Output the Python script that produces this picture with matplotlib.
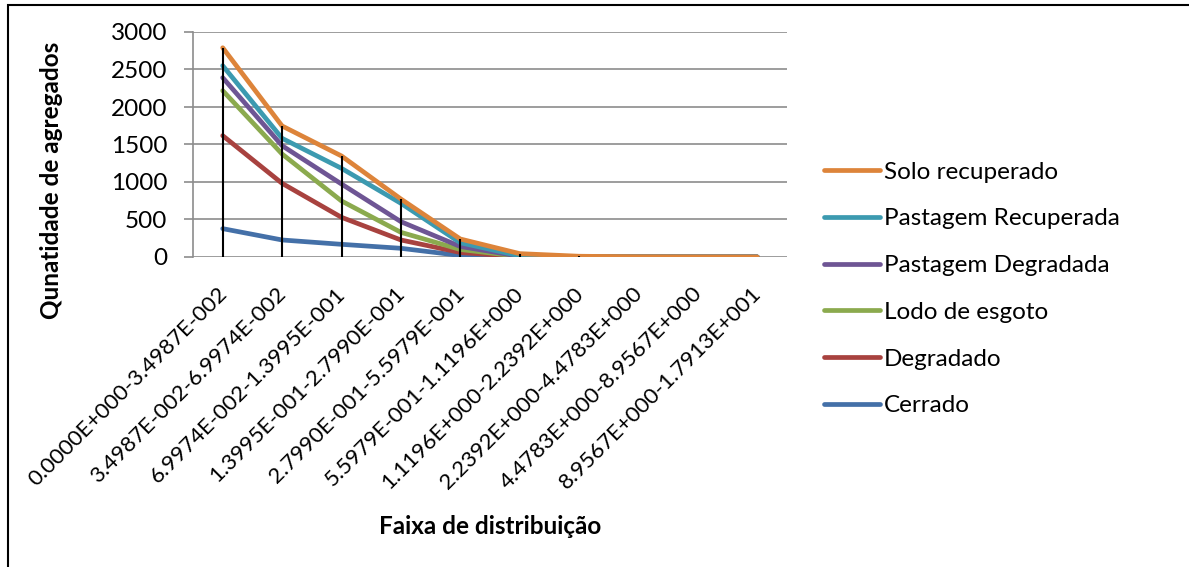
import matplotlib
matplotlib.use("Agg")
import matplotlib.pyplot as plt
from matplotlib.patches import Rectangle
from matplotlib.transforms import ScaledTranslation

plt.rcParams['font.family'] = ['Lato', 'DejaVu Sans']

# faixas de distribuicao (categorias)
faixas = ['0.0000E+000-3.4987E-002', '3.4987E-002-6.9974E-002',
          '6.9974E-002-1.3995E-001', '1.3995E-001-2.7990E-001',
          '2.7990E-001-5.5979E-001', '5.5979E-001-1.1196E+000',
          '1.1196E+000-2.2392E+000', '2.2392E+000-4.4783E+000',
          '4.4783E+000-8.9567E+000', '8.9567E+000-1.7913E+001']

# valores
cerrado = [378, 227, 169, 116, 20, 2, 1, 0, 0, 0]
degradado = [1618, 982, 529, 227, 60, 5, 2, 0, 0, 0]
lodo = [2218, 1373, 747, 329, 100, 8, 2, 1, 0, 0]
past_degradada = [2391, 1484, 973, 471, 140, 10, 3, 1, 0, 0]
past_recuperada = [2551, 1582, 1182, 716, 190, 15, 4, 1, 0, 0]
solo_recuperado = [2790, 1747, 1347, 773, 240, 45, 10, 3, 1, 0]

series = [('Cerrado', cerrado, '#4470A8'),
          ('Degradado', degradado, '#A8423F'),
          ('Lodo de esgoto', lodo, '#8BAA4E'),
          ('Pastagem Degradada', past_degradada, '#6E5594'),
          ('Pastagem Recuperada', past_recuperada, '#3C9AB0'),
          ('Solo recuperado', solo_recuperado, '#DD843A')]

FS = 17.5
W, H = 1189, 567
fig = plt.figure(figsize=(W / 100, H / 100), dpi=100)
ax = fig.add_axes([193 / W, 1 - 257 / H, 594 / W, 225 / H])

x = list(range(len(faixas)))
handles = []
for nome, vals, cor in series:
    h, = ax.plot(x, vals, color=cor, lw=3.4, solid_capstyle='round',
                 solid_joinstyle='round', label=nome, zorder=3)
    handles.append(h)

# linhas de chamada (drop lines) do maior valor ate o eixo
topo = [max(v) for v in zip(*[s[1] for s in series])]
ax.vlines(x, 0, topo, color='black', lw=1.5, zorder=4)

ax.set_xlim(-0.5, len(faixas) - 0.5)
ax.set_ylim(0, 3000)
ax.set_yticks(range(0, 3001, 500))
ax.yaxis.grid(True, color='#8C8C8C', lw=1.2)
ax.set_axisbelow(True)
for s in ['top', 'right', 'bottom']:
    ax.spines[s].set_visible(False)
ax.spines['left'].set_color('#8C8C8C')
ax.spines['left'].set_linewidth(1.2)
ax.tick_params(axis='y', colors='#8C8C8C', length=6.5, width=1.2,
               labelcolor='black', labelsize=FS, pad=12)
ax.set_xticks(x)
ax.set_xticklabels(faixas, rotation=45, ha='right', rotation_mode='anchor',
                   fontsize=16)
ax.tick_params(axis='x', length=0, pad=19)
desloc = ScaledTranslation(-6 / 100, 0, fig.dpi_scale_trans)
for lab in ax.get_xticklabels():
    lab.set_transform(lab.get_transform() + desloc)

fig.text(52 / W, 1 - 42 / H, 'Qunatidade de agregados', rotation=90,
         ha='center', va='top', fontsize=FS, fontweight='bold')
fig.text(490 / W, 1 - 527 / H, 'Faixa de distribuição', ha='center',
         va='center', fontsize=FS, fontweight='bold')

fig.legend(handles[::-1], [s[0] for s in series][::-1], loc='center left',
           bbox_to_anchor=(824 / W, 1 - 289 / H), frameon=False,
           fontsize=FS, handlelength=2.3, handletextpad=0.17,
           labelspacing=1.06, borderpad=0, borderaxespad=0)

# moldura do grafico
fig.patches.append(Rectangle((8 / W, -0.1), 1.2, 1 - 5 / H + 0.1,
                             transform=fig.transFigure, fill=False,
                             edgecolor='black', lw=1.5))

fig.savefig('out.png', dpi=100)
